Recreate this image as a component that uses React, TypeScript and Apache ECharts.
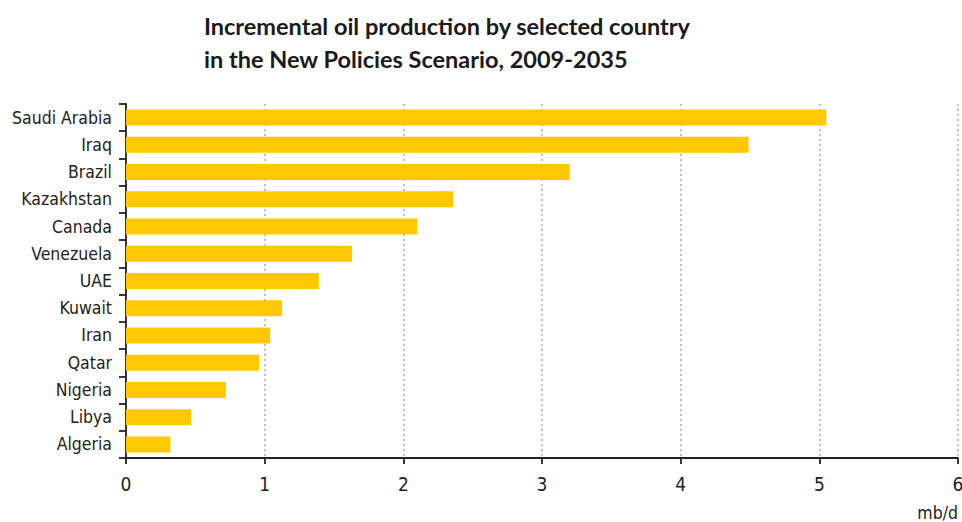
import React, { useEffect, useRef } from "react";
import * as echarts from "echarts";

const countries = [
  "Saudi Arabia", "Iraq", "Brazil", "Kazakhstan", "Canada", "Venezuela", "UAE",
  "Kuwait", "Iran", "Qatar", "Nigeria", "Libya", "Algeria",
];
const increments = [5.05, 4.49, 3.2, 2.36, 2.1, 1.63, 1.39, 1.125, 1.04, 0.96, 0.72, 0.47, 0.32];
const titleLines = [
  "Incremental oil production by selected country",
  "in the New Policies Scenario, 2009-2035",
];
const unitLabel = "mb/d";

const labelFont = "'DejaVu Sans Condensed', 'DejaVu Sans', sans-serif";
const titleFont = "Lato, 'Open Sans', sans-serif";

export default function App() {
  const ref = useRef<HTMLDivElement>(null);
  useEffect(() => {
    if (!ref.current) return;
    const chart = echarts.init(ref.current, null, { renderer: "svg" });
    chart.setOption({
      animation: false,
      backgroundColor: "#ffffff",
      title: {
        text: titleLines.join("\n"),
        left: 204,
        top: 9,
        padding: 0,
        textStyle: {
          fontFamily: titleFont,
          fontSize: 23.5,
          fontWeight: "bold",
          lineHeight: 33,
          color: "#1a1a1a",
        },
      },
      grid: {
        left: 126, right: 4, top: 104, bottom: 64,
        containLabel: false, outerBoundsMode: "none",
      },
      xAxis: {
        type: "value",
        min: 0,
        max: 6,
        interval: 1,
        axisLine: { show: true, lineStyle: { color: "#222", width: 1.8 } },
        axisTick: { show: true, length: 6, lineStyle: { color: "#222", width: 1.8 } },
        axisLabel: { fontFamily: labelFont, fontSize: 19, color: "#222", margin: 16 },
        splitLine: { show: true, lineStyle: { color: "#aaaaaa", type: [2, 3], width: 1.5 } },
      },
      yAxis: {
        type: "category",
        data: countries,
        inverse: true,
        axisLine: { show: true, lineStyle: { color: "#222", width: 1.8 } },
        axisTick: { show: true, length: 7, lineStyle: { color: "#222", width: 1.8 } },
        axisLabel: { fontFamily: labelFont, fontSize: 17.5, color: "#222", margin: 14 },
        splitLine: { show: false },
      },
      graphic: [
        {
          type: "text",
          right: 4,
          top: 504,
          style: { text: unitLabel, fontFamily: labelFont, fontSize: 17.5, fill: "#222" },
        },
      ],
      series: [
        {
          type: "bar",
          data: increments,
          barWidth: 16,
          itemStyle: { color: "#FFC800" },
        },
      ],
    });
    return () => chart.dispose();
  }, []);
  return (
    <div
      ref={ref}
      style={{ position: "fixed", left: 0, top: 0, width: 962, height: 522 }}
    />
  );
}
